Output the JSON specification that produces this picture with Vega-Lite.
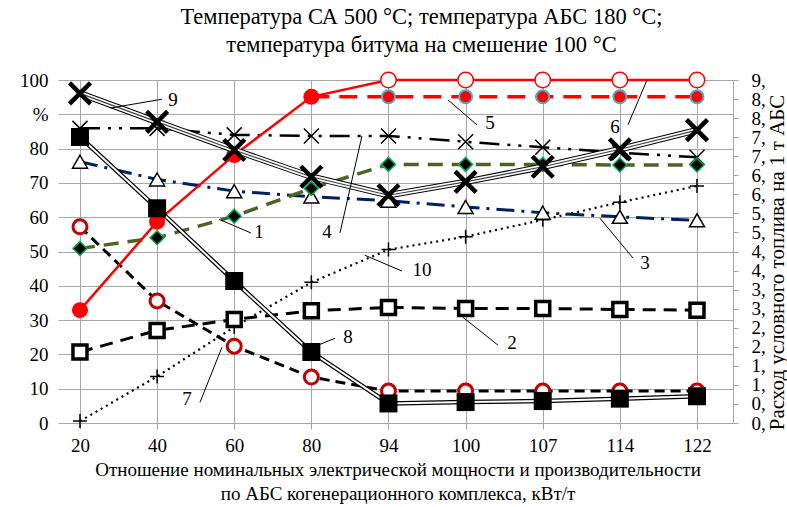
{
  "$schema": "https://vega.github.io/schema/vega-lite/v6.json",
  "width": 671,
  "height": 343,
  "autosize": "none",
  "padding": {"left": 62, "top": 80, "right": 54, "bottom": 84},
  "background": "white",
  "config": {
    "font": "Liberation Serif, Times New Roman, serif",
    "view": {"stroke": null},
    "point": {"opacity": 1},
    "axis": {"labelColor": "black", "titleColor": "black", "labelFont": "Liberation Serif, Times New Roman, serif", "titleFont": "Liberation Serif, Times New Roman, serif", "labelFontSize": 19, "titleFontSize": 19, "titleFontWeight": "normal", "labelOverlap": false, "labelFlush": false}
  },
  "title": {
    "text": ["Температура СА 500 °С; температура АБС 180 °С;", "температура битума на смешение 100 °С"],
    "font": "Liberation Serif, Times New Roman, serif",
    "fontSize": 22.5,
    "fontWeight": "normal",
    "color": "black",
    "anchor": "middle",
    "lineHeight": 28,
    "offset": 13,
    "dx": 24
  },
  "datasets": {
    "pts": [
      {"i": 0, "x": "20", "s1": 50.9, "s2": 20.7, "s3": 76.2, "s4": 85.9, "s5": null, "s6": 32.9, "s7": 57.2, "s8": 83.4, "s9": 96.1, "s10": 0.05},
      {"i": 1, "x": "40", "s1": 54.0, "s2": 27.0, "s3": 71.0, "s4": 85.9, "s5": null, "s6": 58.7, "s7": 35.6, "s8": 62.6, "s9": 87.8, "s10": 1.22},
      {"i": 2, "x": "60", "s1": 60.3, "s2": 30.2, "s3": 67.6, "s4": 84.0, "s5": null, "s6": 78.1, "s7": 22.4, "s8": 41.4, "s9": 79.6, "s10": 2.52},
      {"i": 3, "x": "80", "s1": 68.4, "s2": 32.7, "s3": 66.0, "s4": 83.7, "s5": 95.1, "s6": 95.1, "s7": 13.4, "s8": 20.7, "s9": 71.8, "s10": 3.69},
      {"i": 4, "x": "94", "s1": 75.4, "s2": 33.7, "s3": 64.8, "s4": 83.7, "s5": 95.1, "s6": 100, "s7": 9.3, "s8": 5.7, "s9": 66.4, "s10": 4.55},
      {"i": 5, "x": "100", "s1": 75.4, "s2": 33.4, "s3": 63.0, "s4": 82.0, "s5": 95.1, "s6": 100, "s7": 9.3, "s8": 6.1, "s9": 70.3, "s10": 4.89},
      {"i": 6, "x": "107", "s1": 75.4, "s2": 33.4, "s3": 61.3, "s4": 80.4, "s5": 95.1, "s6": 100, "s7": 9.3, "s8": 6.4, "s9": 74.7, "s10": 5.33},
      {"i": 7, "x": "114", "s1": 75.2, "s2": 33.1, "s3": 60.1, "s4": 78.8, "s5": 95.1, "s6": 100, "s7": 9.3, "s8": 7.1, "s9": 79.8, "s10": 5.79},
      {"i": 8, "x": "122", "s1": 75.2, "s2": 32.9, "s3": 59.1, "s4": 77.5, "s5": 95.1, "s6": 100, "s7": 9.3, "s8": 7.8, "s9": 85.4, "s10": 6.22}
    ],
    "notes": [
      {"t": "9", "k": 1.206, "v": 94.2, "k1": 1.063, "v1": 94.4, "k2": 0.389, "v2": 91.8},
      {"t": "1", "k": 2.321, "v": 55.6, "k1": 2.217, "v1": 55.4, "k2": 1.802, "v2": 59.4},
      {"t": "4", "k": 3.203, "v": 55.6, "k1": 3.371, "v1": 55.4, "k2": 3.656, "v2": 83.7},
      {"t": "5", "k": 5.316, "v": 87.5, "k1": 5.148, "v1": 86.9, "k2": 4.771, "v2": 94.2},
      {"t": "6", "k": 6.937, "v": 86.3, "k1": 7.105, "v1": 86.9, "k2": 7.352, "v2": 100},
      {"t": "3", "k": 7.326, "v": 46.6, "k1": 6.742, "v1": 59.7, "k2": 7.17, "v2": 48.1},
      {"t": "10", "k": 4.434, "v": 44.6, "k1": 3.695, "v1": 48.9, "k2": 4.175, "v2": 44.3},
      {"t": "2", "k": 5.601, "v": 23.3, "k1": 5.42, "v1": 22.7, "k2": 4.966, "v2": 30.8},
      {"t": "8", "k": 3.475, "v": 25.0, "k1": 3.306, "v1": 24.7, "k2": 3.021, "v2": 22.1},
      {"t": "7", "k": 1.387, "v": 6.9, "k1": 1.556, "v1": 6.0, "k2": 1.841, "v2": 22.1}
    ]
  },
  "resolve": {"scale": {"y": "independent", "x": "independent"}},
  "layer": [
    {
      "data": {"name": "pts"},
      "encoding": {
        "x": {"field": "i", "type": "quantitative", "scale": {"domain": [-0.233, 8.467], "nice": false, "zero": false}, "axis": null},
        "y": {
          "field": "s10",
          "type": "quantitative",
          "scale": {"domain": [0, 9], "nice": false, "zero": false},
          "axis": {
            "orient": "right",
            "values": [0, 0.5, 1, 1.5, 2, 2.5, 3, 3.5, 4, 4.5, 5, 5.5, 6, 6.5, 7, 7.5, 8, 8.5, 9],
            "labelExpr": "floor(datum.value) + ','",
            "grid": false,
            "domain": true,
            "domainColor": "#A6A6A6",
            "ticks": true,
            "tickColor": "#A6A6A6",
            "tickSize": 5,
            "labelPadding": 13,
            "title": "Расход условного топлива на 1 т АБС",
            "titleFontSize": 21,
            "titleAngle": 270,
            "titleBaseline": "middle",
            "titleAlign": "center",
            "titleX": 44,
            "titleY": 182
          }
        }
      },
      "layer": [
        {"mark": {"type": "line", "stroke": "black", "strokeWidth": 2.2, "strokeDash": [2, 4]}},
        {"mark": {"type": "point", "shape": "M-1,0L1,0M0,-1L0,1", "size": 196, "filled": false, "stroke": "black", "strokeWidth": 1.5}}
      ]
    },
    {
      "data": {"name": "pts"},
      "transform": [{"fold": ["s1", "s2", "s3", "s4", "s5", "s6", "s7", "s8", "s9"], "as": ["s", "value"]}],
      "encoding": {
        "x": {
          "field": "i",
          "type": "quantitative",
          "scale": {"domain": [-0.233, 8.467], "nice": false, "zero": false},
          "axis": {
            "orient": "bottom",
            "values": [0, 1, 2, 3, 4, 5, 6, 7, 8],
            "labelExpr": "datum.value == 0 ? '20' : datum.value == 1 ? '40' : datum.value == 2 ? '60' : datum.value == 3 ? '80' : datum.value == 4 ? '94' : datum.value == 5 ? '100' : datum.value == 6 ? '107' : datum.value == 7 ? '114' : '122'",
            "grid": true,
            "gridColor": "#A6A6A6",
            "gridWidth": 1,
            "domain": true,
            "domainColor": "#A6A6A6",
            "ticks": true,
            "tickSize": 6,
            "tickColor": "#A6A6A6",
            "labels": true,
            "labelPadding": 7,
            "title": ["Отношение номинальных электрической мощности и производительности", "по АБС когенерационного комплекса, кВт/т"],
            "titleLineHeight": 24,
            "titlePadding": 5
          }
        },
        "y": {
          "field": "value",
          "type": "quantitative",
          "scale": {"domain": [0, 100], "nice": false, "zero": false},
          "axis": {
            "orient": "left",
            "values": [0, 10, 20, 30, 40, 50, 60, 70, 80, 90, 100],
            "labelExpr": "datum.value == 90 ? '%' : datum.label",
            "grid": true,
            "gridColor": "#A6A6A6",
            "gridWidth": 1,
            "domain": false,
            "ticks": true,
            "tickColor": "#A6A6A6",
            "tickSize": 4,
            "labelPadding": 10,
            "title": null
          }
        }
      },
      "layer": [
        {"transform": [{"filter": "datum.s == 's3'"}], "mark": {"type": "line", "stroke": "#002060", "strokeWidth": 3, "strokeDash": [18, 7, 3, 7]}},
        {"transform": [{"filter": "datum.s == 's3'"}], "mark": {"type": "point", "shape": "triangle-up", "size": 225, "filled": true, "fill": "white", "stroke": "black", "strokeWidth": 1.5}},
        {"transform": [{"filter": "datum.s == 's4'"}], "mark": {"type": "line", "stroke": "black", "strokeWidth": 2.5, "strokeDash": [20, 8, 3, 8, 3, 8]}},
        {"transform": [{"filter": "datum.s == 's4'"}], "mark": {"type": "point", "shape": "M-1,-1L1,1M1,-1L-1,1", "size": 225, "filled": false, "stroke": "black", "strokeWidth": 1.5}},
        {"transform": [{"filter": "datum.s == 's2'"}], "mark": {"type": "line", "stroke": "black", "strokeWidth": 3, "strokeDash": [13, 8]}},
        {"transform": [{"filter": "datum.s == 's2'"}], "mark": {"type": "point", "shape": "square", "size": 196, "filled": true, "fill": "white", "stroke": "black", "strokeWidth": 3.5}},
        {"transform": [{"filter": "datum.s == 's1'"}], "mark": {"type": "line", "stroke": "#4F6228", "strokeWidth": 3.5, "strokeDash": [15, 9]}},
        {"transform": [{"filter": "datum.s == 's1'"}], "mark": {"type": "point", "shape": "diamond", "size": 196, "filled": true, "fill": "black", "stroke": "#00B050", "strokeWidth": 1.5}},
        {"transform": [{"filter": "datum.s == 's7'"}], "mark": {"type": "line", "stroke": "black", "strokeWidth": 3, "strokeDash": [10, 6]}},
        {"transform": [{"filter": "datum.s == 's7'"}], "mark": {"type": "point", "shape": "circle", "size": 196, "filled": true, "fill": "white", "stroke": "#C00000", "strokeWidth": 3}},
        {"transform": [{"filter": "datum.s == 's5'"}], "mark": {"type": "line", "stroke": "#FF0000", "strokeWidth": 3.5, "strokeDash": [18, 10]}},
        {"transform": [{"filter": "datum.s == 's5'"}], "mark": {"type": "point", "shape": "circle", "size": 169, "filled": true, "fill": "#FF0000", "stroke": "#4BACC6", "strokeWidth": 2}},
        {"transform": [{"filter": "datum.s == 's6'"}], "mark": {"type": "line", "stroke": "#FF0000", "strokeWidth": 2.5}},
        {"transform": [{"filter": "datum.s == 's6' && datum.i <= 3"}], "mark": {"type": "point", "shape": "circle", "size": 256, "filled": true, "fill": "#FF0000", "strokeWidth": 0}},
        {"transform": [{"filter": "datum.s == 's6' && datum.i > 3"}], "mark": {"type": "point", "shape": "circle", "size": 240, "filled": true, "fill": "white", "stroke": "#FF0000", "strokeWidth": 1.5}},
        {"transform": [{"filter": "datum.s == 's8'"}], "mark": {"type": "line", "stroke": "black", "strokeWidth": 4.5}},
        {"transform": [{"filter": "datum.s == 's8'"}], "mark": {"type": "line", "stroke": "white", "strokeWidth": 2}},
        {"transform": [{"filter": "datum.s == 's8'"}], "mark": {"type": "point", "shape": "square", "size": 324, "filled": true, "fill": "black", "strokeWidth": 0}},
        {"transform": [{"filter": "datum.s == 's9'"}], "mark": {"type": "line", "stroke": "black", "strokeWidth": 6.5}},
        {"transform": [{"filter": "datum.s == 's9'"}], "mark": {"type": "line", "stroke": "white", "strokeWidth": 4.5}},
        {"transform": [{"filter": "datum.s == 's9'"}], "mark": {"type": "line", "stroke": "#404040", "strokeWidth": 1.2}},
        {"transform": [{"filter": "datum.s == 's9'"}], "mark": {"type": "point", "shape": "M-1,-1L1,1M1,-1L-1,1", "size": 441, "filled": false, "stroke": "black", "strokeWidth": 4.5}}
      ]
    },
    {
      "data": {"name": "notes"},
      "encoding": {
        "x": {"field": "k", "type": "quantitative", "scale": {"domain": [-0.233, 8.467], "nice": false, "zero": false}, "axis": null},
        "y": {"field": "v", "type": "quantitative", "scale": {"domain": [0, 100], "nice": false, "zero": false}, "axis": null}
      },
      "layer": [
        {
          "mark": {"type": "rule", "stroke": "black", "strokeWidth": 1},
          "encoding": {
            "x": {"field": "k1", "type": "quantitative", "scale": {"domain": [-0.233, 8.467], "nice": false, "zero": false}, "axis": null},
            "x2": {"field": "k2"},
            "y": {"field": "v1", "type": "quantitative", "scale": {"domain": [0, 100], "nice": false, "zero": false}, "axis": null},
            "y2": {"field": "v2"}
          }
        },
        {
          "mark": {"type": "text", "font": "Liberation Serif, Times New Roman, serif", "fontSize": 19, "color": "black", "align": "center", "baseline": "middle"},
          "encoding": {
            "text": {"field": "t"}
          }
        }
      ]
    }
  ]
}
